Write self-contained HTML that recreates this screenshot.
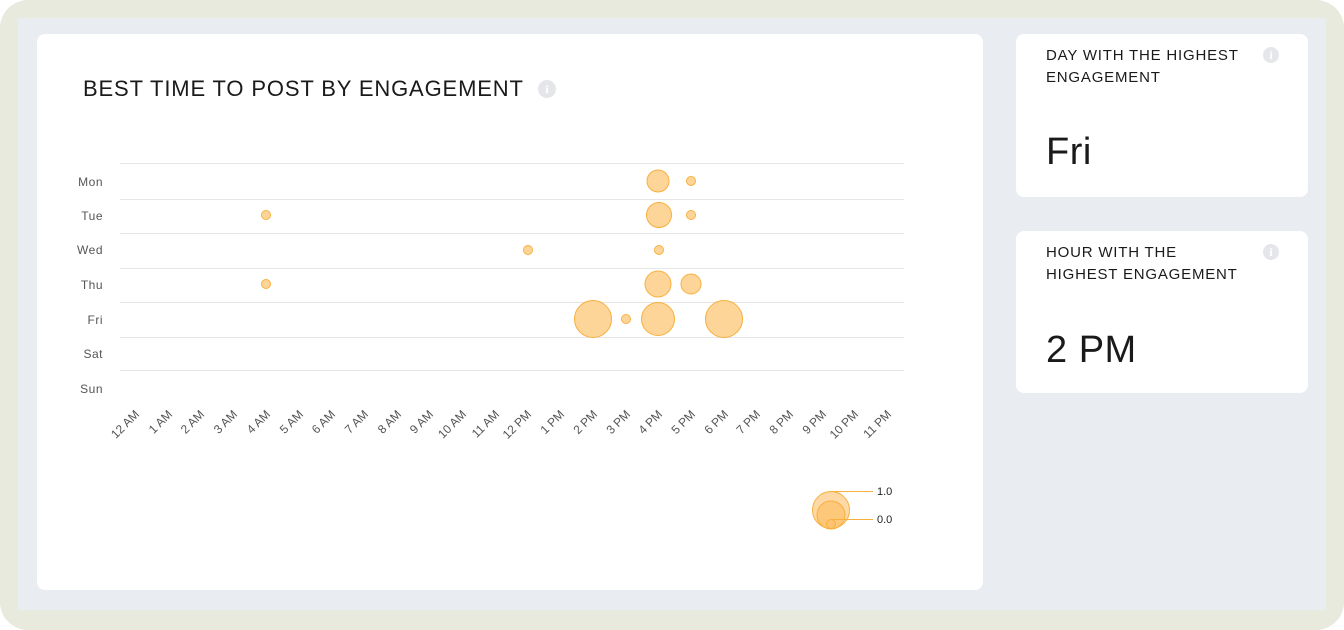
<!DOCTYPE html><html><head><style>
body{margin:0;width:1344px;height:630px;background:#fff;font-family:"Liberation Sans",sans-serif;overflow:hidden}
.outer{position:absolute;left:0;top:0;width:1344px;height:630px;background:#e8eadd;border-radius:28px}
.inner{position:absolute;left:18px;top:18px;width:1308px;height:592px;background:#e9ecf1}
.card{position:absolute;background:#fff;border-radius:8px}
.t{position:absolute;color:#1a1a1a;letter-spacing:.5px}
.i{position:absolute;width:18px;height:18px;border-radius:50%;background:#e4e6ea;color:#fff;font:bold 12px "Liberation Serif",serif;text-align:center;line-height:18px}
</style></head><body>
<div class="outer"></div><div class="inner"></div>
<div class="card" style="left:37px;top:34px;width:946px;height:556px"></div>
<div class="t" style="left:83px;top:76px;font-size:22px;letter-spacing:.85px">BEST TIME TO POST BY ENGAGEMENT</div>
<div class="i" style="left:538px;top:80px">i</div>
<div class="card" style="left:1016px;top:34px;width:292px;height:163px"></div>
<div class="t" style="left:1046px;top:45px;font-size:15px;line-height:22px;letter-spacing:.8px">DAY WITH THE HIGHEST<br>ENGAGEMENT</div>
<div class="i" style="left:1263px;top:47px;width:16px;height:16px;line-height:16px">i</div>
<div class="t" style="left:1046px;top:131px;font-size:38px">Fri</div>
<div class="card" style="left:1016px;top:231px;width:292px;height:162px"></div>
<div class="t" style="left:1046px;top:242px;font-size:15px;line-height:22px;letter-spacing:.8px">HOUR WITH THE<br>HIGHEST ENGAGEMENT</div>
<div class="i" style="left:1263px;top:244px;width:16px;height:16px;line-height:16px">i</div>
<div class="t" style="left:1046px;top:329px;font-size:38px">2 PM</div>
<svg style="position:absolute;left:0;top:0" width="1344" height="630" font-family="Liberation Sans,sans-serif">
<g stroke="#e6e6e6" stroke-width="1">
<line x1="120" x2="904" y1="163.5" y2="163.5"/><line x1="120" x2="904" y1="199.5" y2="199.5"/><line x1="120" x2="904" y1="233.5" y2="233.5"/><line x1="120" x2="904" y1="268.5" y2="268.5"/><line x1="120" x2="904" y1="302.5" y2="302.5"/><line x1="120" x2="904" y1="337.5" y2="337.5"/><line x1="120" x2="904" y1="370.5" y2="370.5"/>
</g>
<g font-size="12" fill="#555" text-anchor="end" letter-spacing=".5">
<text x="103" y="186">Mon</text><text x="103" y="220">Tue</text><text x="103" y="254">Wed</text><text x="103" y="289">Thu</text><text x="103" y="324">Fri</text><text x="103" y="358">Sat</text><text x="103" y="393">Sun</text>
</g>
<g font-size="12" fill="#555" text-anchor="end">
<text transform="translate(140,415) rotate(-45)">12 AM</text><text transform="translate(173,415) rotate(-45)">1 AM</text><text transform="translate(205,415) rotate(-45)">2 AM</text><text transform="translate(238,415) rotate(-45)">3 AM</text><text transform="translate(271,415) rotate(-45)">4 AM</text><text transform="translate(304,415) rotate(-45)">5 AM</text><text transform="translate(336,415) rotate(-45)">6 AM</text><text transform="translate(369,415) rotate(-45)">7 AM</text><text transform="translate(402,415) rotate(-45)">8 AM</text><text transform="translate(434,415) rotate(-45)">9 AM</text><text transform="translate(467,415) rotate(-45)">10 AM</text><text transform="translate(500,415) rotate(-45)">11 AM</text><text transform="translate(532,415) rotate(-45)">12 PM</text><text transform="translate(565,415) rotate(-45)">1 PM</text><text transform="translate(598,415) rotate(-45)">2 PM</text><text transform="translate(631,415) rotate(-45)">3 PM</text><text transform="translate(663,415) rotate(-45)">4 PM</text><text transform="translate(696,415) rotate(-45)">5 PM</text><text transform="translate(729,415) rotate(-45)">6 PM</text><text transform="translate(761,415) rotate(-45)">7 PM</text><text transform="translate(794,415) rotate(-45)">8 PM</text><text transform="translate(827,415) rotate(-45)">9 PM</text><text transform="translate(859,415) rotate(-45)">10 PM</text><text transform="translate(892,415) rotate(-45)">11 PM</text>
</g>
<g fill="#fdd598" stroke="#f7b03e" stroke-width="1">
<circle cx="658" cy="181" r="11"/><circle cx="691" cy="181" r="4.5"/>
<circle cx="266" cy="215" r="4.5"/><circle cx="659" cy="215" r="12.5"/><circle cx="691" cy="215" r="4.5"/>
<circle cx="528" cy="250" r="4.5"/><circle cx="659" cy="250" r="4.5"/>
<circle cx="266" cy="284" r="4.5"/><circle cx="658" cy="284" r="13"/><circle cx="691" cy="284" r="10"/>
<circle cx="593" cy="319" r="18.5"/><circle cx="626" cy="319" r="4.5"/><circle cx="658" cy="319" r="16.5"/><circle cx="724" cy="319" r="18.5"/>
</g>
<g stroke="#f7b03e" fill="#fdc06a" fill-opacity=".6">
<circle cx="831" cy="510" r="18.5"/><circle cx="831" cy="515" r="14" fill-opacity=".7"/><circle cx="831" cy="524" r="4.5"/>
<line x1="831" y1="491.5" x2="873" y2="491.5"/><line x1="831" y1="519.5" x2="873" y2="519.5"/>
</g>
<g font-size="11" fill="#222"><text x="877" y="495">1.0</text><text x="877" y="523">0.0</text></g>
</svg>
</body></html>
